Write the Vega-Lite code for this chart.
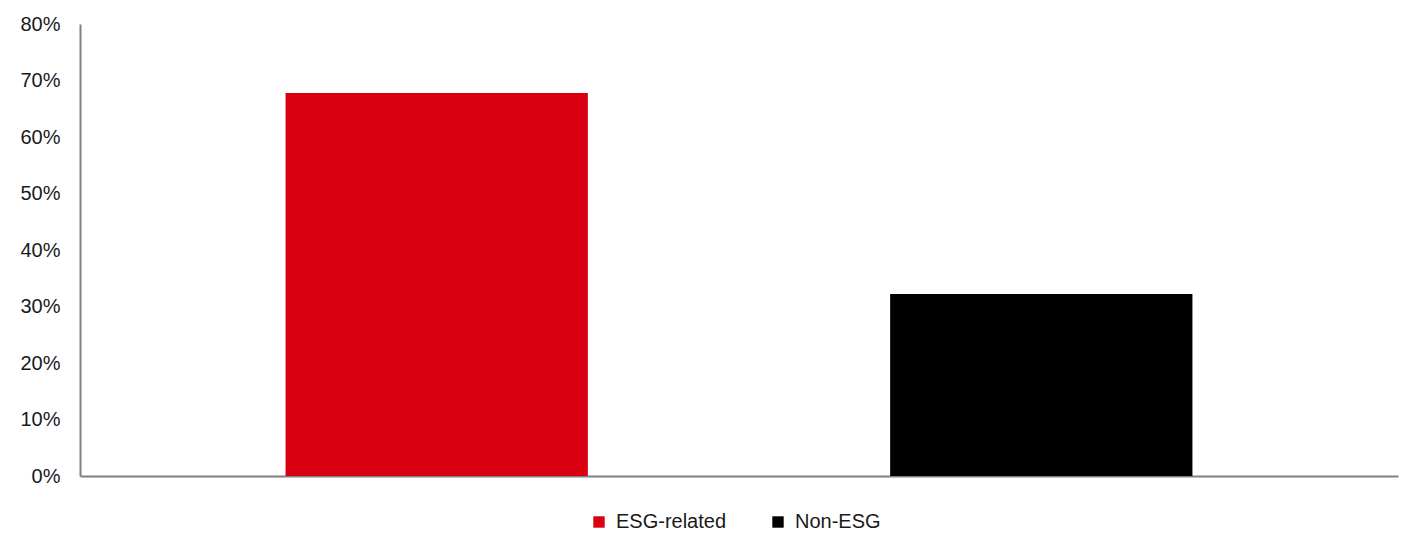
{
  "$schema": "https://vega.github.io/schema/vega-lite/v6.json",
  "autosize": "none",
  "width": 1318,
  "height": 452,
  "padding": {"left": 80, "top": 24, "right": 13, "bottom": 61},
  "background": "white",
  "config": {
    "view": {"stroke": null},
    "font": "Liberation Sans",
    "axis": {"grid": false, "ticks": false, "domainColor": "#808080", "domainWidth": 2, "labelFont": "Liberation Sans", "labelFontSize": 20, "labelColor": "#1a1a1a", "title": null}
  },
  "data": {
    "values": [
      {"group": "ESG-related", "share": 0.678},
      {"group": "Non-ESG", "share": 0.322}
    ]
  },
  "mark": {"type": "bar"},
  "encoding": {
    "x": {
      "field": "group", "type": "nominal",
      "scale": {"paddingInner": 0.5, "paddingOuter": 0.34},
      "axis": {"labels": false, "domain": true}
    },
    "y": {
      "field": "share", "type": "quantitative",
      "scale": {"domain": [0, 0.8], "nice": false},
      "axis": {"values": [0, 0.1, 0.2, 0.3, 0.4, 0.5, 0.6, 0.7, 0.8], "format": ".0%", "labelPadding": 20}
    },
    "color": {
      "field": "group", "type": "nominal",
      "scale": {"domain": ["ESG-related", "Non-ESG"], "range": ["#d90012", "#000000"]},
      "legend": {
        "title": null, "orient": "none", "direction": "horizontal",
        "legendX": 509, "legendY": 488,
        "symbolType": "square", "symbolSize": 130, "symbolStrokeWidth": 0,
        "labelFontSize": 20, "labelColor": "#1a1a1a", "labelOffset": 7,
        "columnPadding": 41, "padding": 0
      }
    }
  }
}
